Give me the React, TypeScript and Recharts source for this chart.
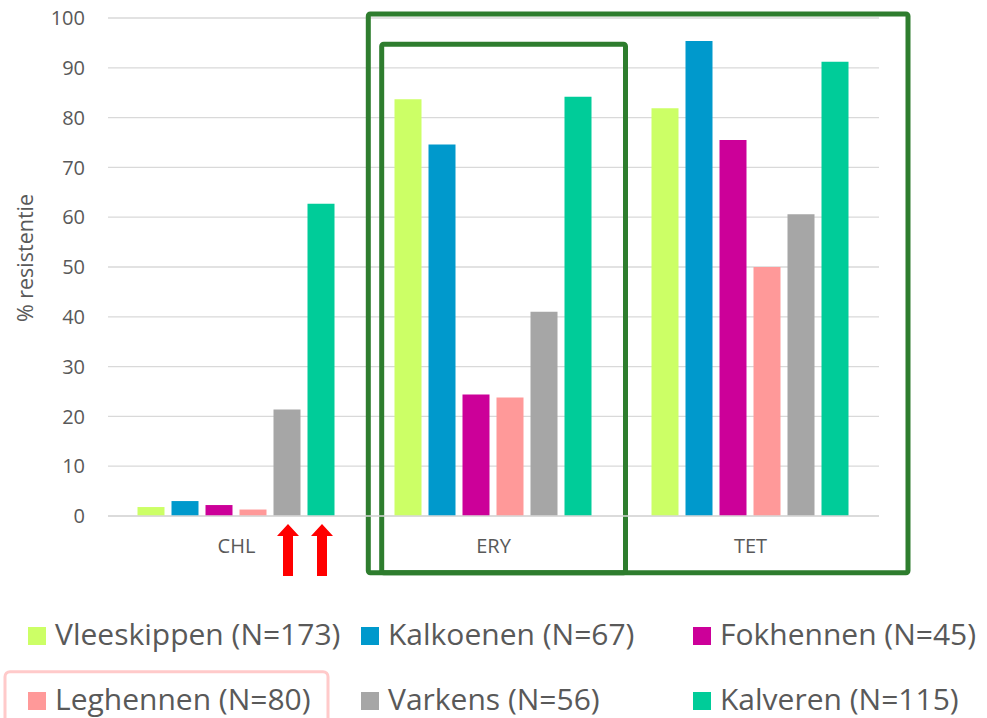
import React from 'react';
import { BarChart, Bar, XAxis, YAxis, CartesianGrid, ReferenceArea, LabelList } from 'recharts';

const categories = ['CHL', 'ERY', 'TET'];
const seriesKeys = ['vleeskippen', 'kalkoenen', 'fokhennen', 'leghennen', 'varkens', 'kalveren'];
const seriesLabels = [
  'Vleeskippen (N=173)',
  'Kalkoenen (N=67)',
  'Fokhennen (N=45)',
  'Leghennen (N=80)',
  'Varkens (N=56)',
  'Kalveren (N=115)',
];
const seriesColors = ['#ccff66', '#0099cc', '#cc0099', '#ff9999', '#a6a6a6', '#00cc99'];

const vleeskippen = [1.8, 83.7, 81.9];
const kalkoenen = [3.0, 74.6, 95.4];
const fokhennen = [2.2, 24.4, 75.5];
const leghennen = [1.3, 23.8, 50.0];
const varkens = [21.4, 41.0, 60.6];
const kalveren = [62.7, 84.2, 91.2];

const yTicks = [0, 10, 20, 30, 40, 50, 60, 70, 80, 90, 100];
const yLabel = '% resistentie';

// annotations
const arrowCategory = 'CHL';
const arrowSeries = ['varkens', 'kalveren'];

const values = [vleeskippen, kalkoenen, fokhennen, leghennen, varkens, kalveren];
const data = categories.map((c, i) => {
  const row: any = { category: c };
  seriesKeys.forEach((k, j) => {
    row[k] = values[j][i];
  });
  return row;
});

const FONT = '"Open Sans", "Noto Sans", sans-serif';
const TEXT = '#595959';
const GREEN = '#2e7d2e';

const ArrowLabel = (props: any) => {
  const { x, y, width, height, index } = props;
  if (data[index].category !== arrowCategory) return null;
  const cx = x + width / 2 + 1;
  const base = y + height;
  const top = base + 8;
  const headH = 12;
  const headW = 11;
  const shaftW = 5;
  const bottom = base + 60;
  const d = `M${cx},${top} L${cx + headW},${top + headH} L${cx + shaftW},${top + headH} L${cx + shaftW},${bottom} L${cx - shaftW},${bottom} L${cx - shaftW},${top + headH} L${cx - headW},${top + headH} Z`;
  return <path d={d} fill="#ff0000" />;
};

const InnerBox = (props: any) => {
  const { x, y, width, height } = props;
  const left = x + 16.7;
  const right = x + width + 3.5;
  const top = y + 26.3;
  const bottom = y + height + 56.7;
  return (
    <rect x={left} y={top} width={right - left} height={bottom - top} fill="none" stroke={GREEN} strokeWidth={5} rx={2} />
  );
};

const OuterBox = (props: any) => {
  const { x, y, width, height } = props;
  const left = x + 3.3;
  const right = x + width + 29;
  const top = y - 4;
  const bottom = y + height + 56.7;
  return (
    <rect x={left} y={top} width={right - left} height={bottom - top} fill="none" stroke={GREEN} strokeWidth={5} rx={2} />
  );
};

const YLabel = (props: any) => {
  const vb = props.viewBox || {};
  const x = 33;
  const y = (vb.y ?? 18) + (vb.height ?? 498) / 2 - 9;
  return (
    <text x={x} y={y} transform={`rotate(-90, ${x}, ${y})`} textAnchor="middle" fill={TEXT} fontSize={21.5} fontFamily={FONT}>
      {yLabel}
    </text>
  );
};

const legendCols = [28, 361, 693];
const legendBaselines = [45, 110];

const Legend6 = () => (
  <svg width={987} height={118} style={{ position: 'absolute', left: 0, top: 600 }}>
    <rect x={5} y={71.7} width={323} height={60} rx={5} fill="none" stroke="#ffcaca" strokeWidth={3} />
    {seriesKeys.map((k, i) => {
      const col = legendCols[i % 3];
      const base = legendBaselines[Math.floor(i / 3)];
      return (
        <g key={k}>
          <rect x={col} y={base - 18} width={18} height={18} fill={seriesColors[i]} />
          <text x={col + 27} y={base} fontSize={30} fontFamily={FONT} fill={TEXT}>
            {seriesLabels[i]}
          </text>
        </g>
      );
    })}
  </svg>
);

export default function App() {
  return (
    <div style={{ position: 'absolute', left: 0, top: 0, width: 987, height: 718, background: '#fff' }}>
      <BarChart
        width={987}
        height={600}
        data={data}
        margin={{ top: 18, right: 108, left: 0, bottom: 24 }}
        barGap={7}
        barCategoryGap={29.5}
      >
        <CartesianGrid vertical={false} stroke="#d9d9d9" strokeWidth={1.3} />
        <XAxis
          dataKey="category"
          height={60}
          tickLine={false}
          tickSize={0}
          tickMargin={23}
          axisLine={{ stroke: '#d9d9d9', strokeWidth: 1.5 }}
          tick={{ fill: TEXT, fontSize: 20, fontFamily: FONT }}
        />
        <YAxis
          width={108}
          domain={[0, 100]}
          ticks={yTicks}
          axisLine={false}
          tickLine={false}
          tickSize={0}
          tickMargin={23}
          tick={{ fill: TEXT, fontSize: 20, fontFamily: FONT }}
          label={<YLabel />}
        />
        {seriesKeys.map((k, i) => (
          <Bar key={k} dataKey={k} fill={seriesColors[i]} isAnimationActive={false}>
            {arrowSeries.includes(k) ? <LabelList dataKey={k} content={<ArrowLabel />} /> : null}
          </Bar>
        ))}
        <ReferenceArea x1="ERY" x2="TET" y1={0} y2={100} ifOverflow="visible" shape={<OuterBox />} />
        <ReferenceArea x1="ERY" x2="ERY" y1={0} y2={100} ifOverflow="visible" shape={<InnerBox />} />
      </BarChart>
      <Legend6 />
    </div>
  );
}
